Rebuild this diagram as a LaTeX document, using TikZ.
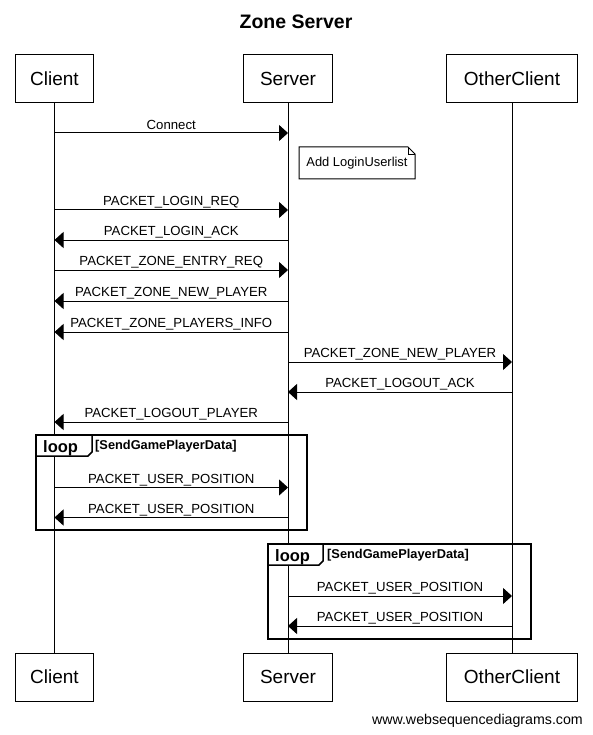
\documentclass[tikz,border=0pt]{standalone}
\usepackage{fontspec}
\setmainfont{Liberation Sans}
\usetikzlibrary{arrows.meta}

% message from lifeline #1 to lifeline #2 at height #3, labelled #4
\newcommand{\seqmsg}[4]{%
  \draw[msg] (#1 |- 0,#3) -- (#2 |- 0,#3);
  \path (#1 |- 0,#3) -- (#2 |- 0,#3) node[midway, yshift=4.5pt, lbl] {#4};}

\begin{document}
\begin{tikzpicture}[x=1pt,y=-1pt,
  part/.style={draw, line width=1pt, minimum height=48pt, inner sep=0pt,
    font=\fontsize{19}{22}\selectfont},
  life/.style={line width=1pt},
  msg/.style={line width=1pt, -{Triangle[length=9pt,width=16pt]}},
  lbl/.style={font=\fontsize{13.2}{15}\selectfont, anchor=base, inner sep=0pt},
  frame/.style={line width=2pt},
  tab/.style={line width=1.5pt, fill=white},
  looptext/.style={font=\bfseries\fontsize{16.5}{18}\selectfont, anchor=base west, inner sep=0pt},
  guard/.style={font=\bfseries\fontsize{12.8}{14}\selectfont, anchor=base west, inner sep=0pt},
  notetext/.style={font=\fontsize{12.9}{14}\selectfont, inner sep=0pt}
]
\useasboundingbox (0,0) rectangle (592,735);

% title
\node[font=\bfseries\fontsize{19.5}{22}\selectfont, anchor=base, inner sep=0pt] (title) at (296,29) {Zone Server};

% participants, top and bottom
\node[part, minimum width=78.6pt] (cT) at (54.5,78.5) {Client};
\node[part, minimum width=89pt]   (sT) at (288,78.5) {Server};
\node[part, minimum width=131pt]  (oT) at (512,78.5) {OtherClient};
\node[part, minimum width=78.6pt] (cB) at (54.5,677) {Client};
\node[part, minimum width=89pt]   (sB) at (288,677) {Server};
\node[part, minimum width=131pt]  (oB) at (512,677) {OtherClient};

% lifelines
\draw[life] (cT.south) -- (cB.north);
\draw[life] (sT.south) -- (sB.north);
\draw[life] (oT.south) -- (oB.north);

% messages
\draw[msg] (cT |- 0,133) -- (sT |- 0,133);
\path (cT |- 0,133) -- (sT |- 0,133) node[midway, yshift=3.5pt, lbl] {Connect};

% note on the server
\node[notetext] (note) at (357,163) {Add LoginUserlist};
\draw[line width=1pt] (299,147) -- (408,147) -- (415,154) -- (415,179) -- (299,179) -- cycle;
\draw[line width=0.8pt] (408,147) -- (408,154) -- (415,154);

\seqmsg{cT}{sT}{210}{PACKET\_LOGIN\_REQ}
\seqmsg{sT}{cT}{240}{PACKET\_LOGIN\_ACK}
\seqmsg{cT}{sT}{270}{PACKET\_ZONE\_ENTRY\_REQ}
\seqmsg{sT}{cT}{301}{PACKET\_ZONE\_NEW\_PLAYER}
\seqmsg{sT}{cT}{332}{PACKET\_ZONE\_PLAYERS\_INFO}
\seqmsg{sT}{oT}{362}{PACKET\_ZONE\_NEW\_PLAYER}
\seqmsg{oT}{sT}{392}{PACKET\_LOGOUT\_ACK}
\seqmsg{sT}{cT}{422}{PACKET\_LOGOUT\_PLAYER}

% first loop: Client <-> Server
\draw[frame] (36,435) rectangle (307,530);
\draw[tab] (36,435) -- (36,456) -- (88,456) -- (92,452) -- (92,435) -- cycle;
\node[looptext] (loopA) at (43,452.5) {loop};
\node[guard] (guardA) at (95,449) {[SendGamePlayerData]};
\seqmsg{cT}{sT}{487.5}{PACKET\_USER\_POSITION}
\seqmsg{sT}{cT}{517.5}{PACKET\_USER\_POSITION}

% second loop: Server <-> OtherClient
\draw[frame] (268,544) rectangle (531,639);
\draw[tab] (268,544) -- (268,565) -- (319,565) -- (323,561) -- (323,544) -- cycle;
\node[looptext] (loopB) at (275,561.5) {loop};
\node[guard] (guardB) at (327,558) {[SendGamePlayerData]};
\seqmsg{sT}{oT}{596}{PACKET\_USER\_POSITION}
\seqmsg{oT}{sT}{626}{PACKET\_USER\_POSITION}

% footer
\node[font=\fontsize{14.2}{16}\selectfont, anchor=base east, inner sep=0pt] (credit) at (583,724) {www.websequencediagrams.com};
\end{tikzpicture}
\end{document}
